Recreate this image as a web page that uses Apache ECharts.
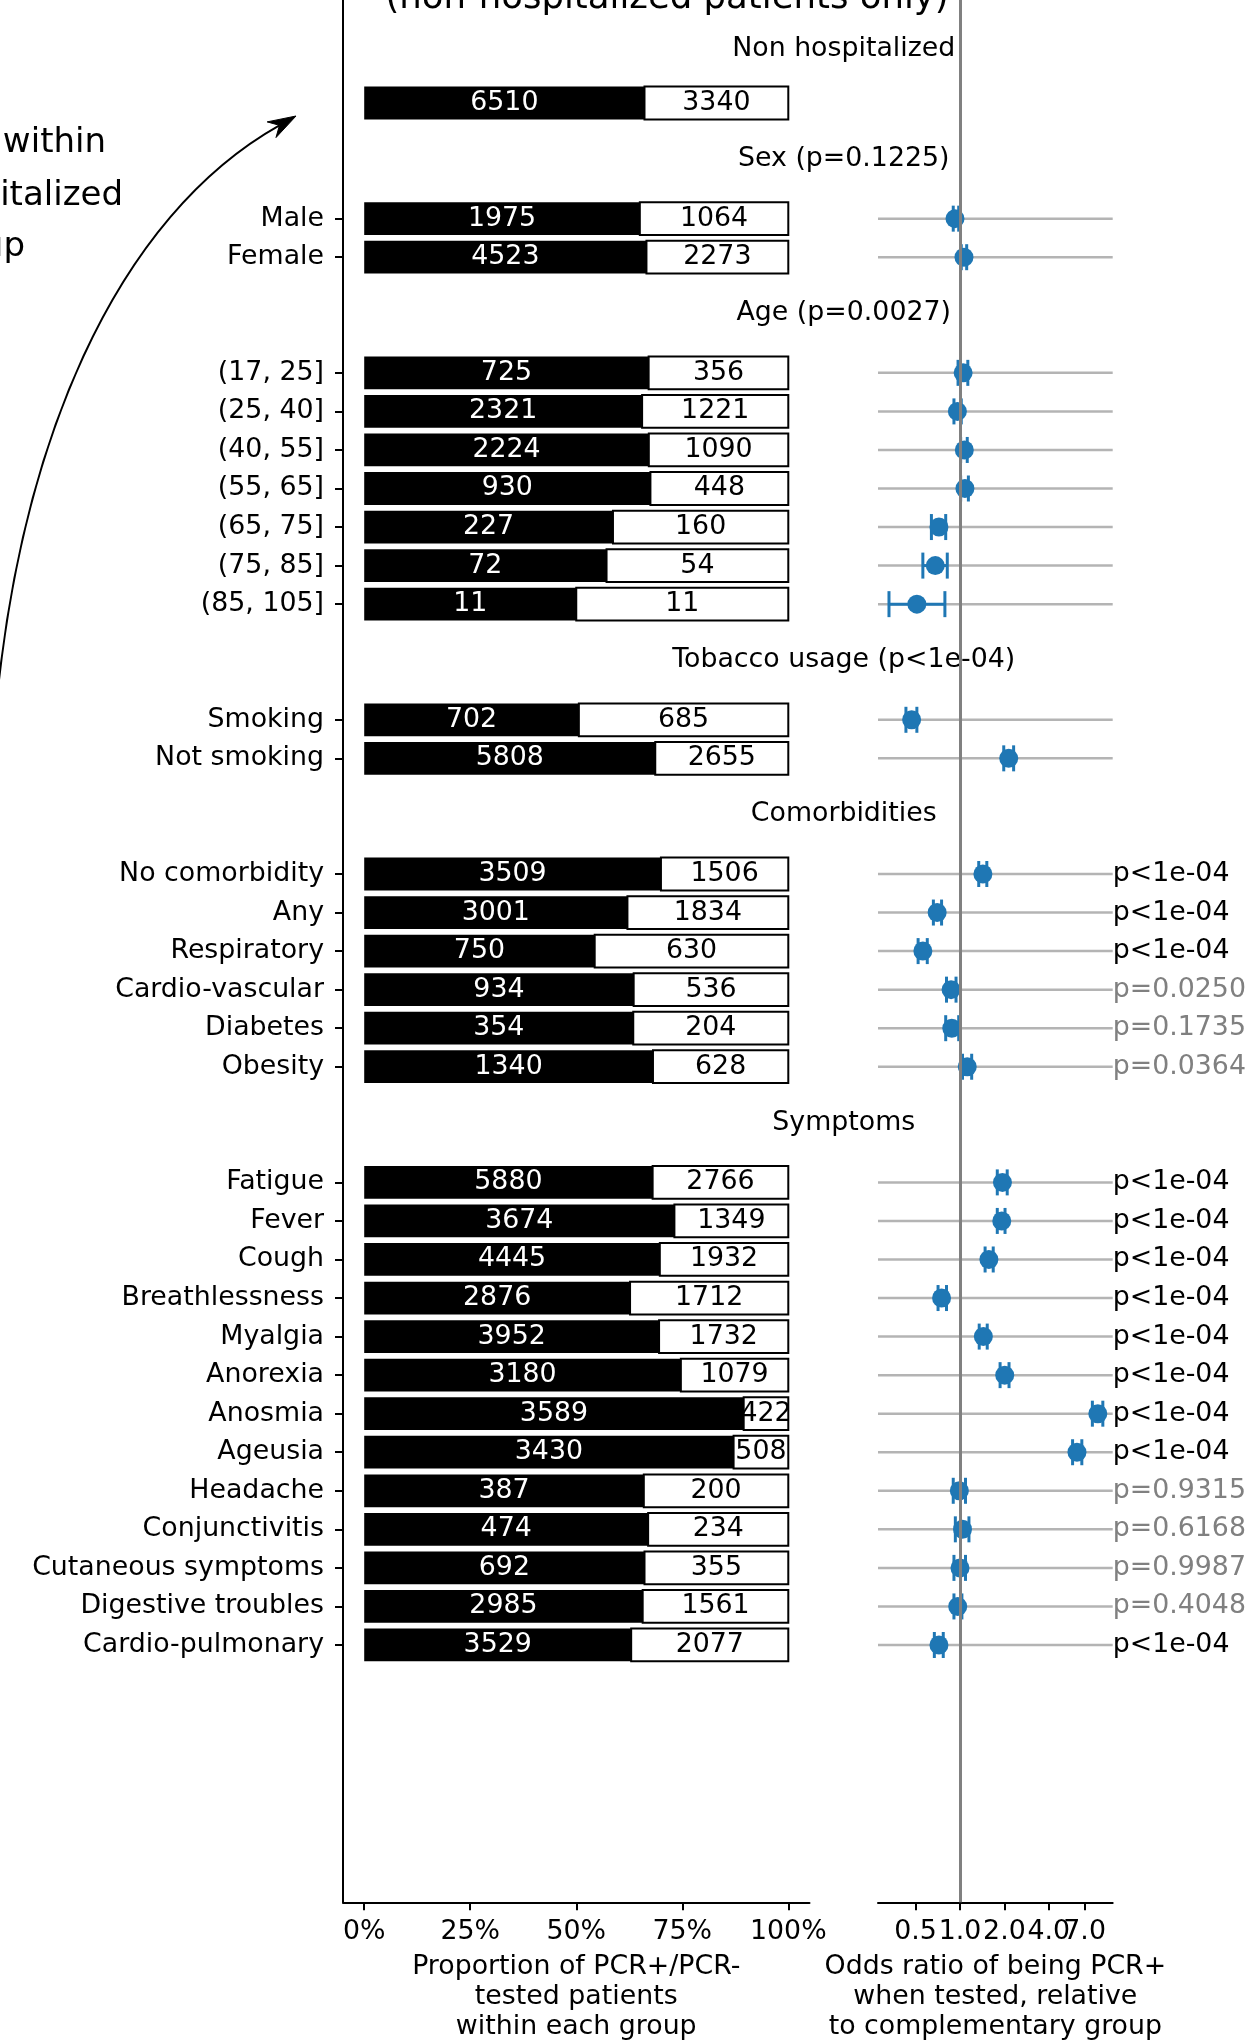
<!DOCTYPE html>
<html>
<head>
<meta charset="utf-8">
<script src="https://cdn.jsdelivr.net/npm/echarts@6/dist/echarts.min.js"></script>
<style>
  html, body { margin: 0; padding: 0; background: #ffffff; }
  #chart { width: 1253px; height: 2043px; }
</style>
</head>
<body>
<div id="chart"></div>
<script>
// ---- data -------------------------------------------------------------
const groupTitles = ['Non hospitalized', 'Sex (p=0.1225)', 'Age (p=0.0027)',
  'Tobacco usage (p<1e-04)', 'Comorbidities', 'Symptoms'];
const groupSizes = [1, 2, 7, 2, 6, 13];

const rowLabels = ['',
  'Male', 'Female',
  '(17, 25]', '(25, 40]', '(40, 55]', '(55, 65]', '(65, 75]', '(75, 85]', '(85, 105]',
  'Smoking', 'Not smoking',
  'No comorbidity', 'Any', 'Respiratory', 'Cardio-vascular', 'Diabetes', 'Obesity',
  'Fatigue', 'Fever', 'Cough', 'Breathlessness', 'Myalgia', 'Anorexia', 'Anosmia',
  'Ageusia', 'Headache', 'Conjunctivitis', 'Cutaneous symptoms', 'Digestive troubles',
  'Cardio-pulmonary'];

const pcrPositive = [6510, 1975, 4523, 725, 2321, 2224, 930, 227, 72, 11, 702, 5808,
  3509, 3001, 750, 934, 354, 1340, 5880, 3674, 4445, 2876, 3952, 3180, 3589, 3430,
  387, 474, 692, 2985, 3529];
const pcrNegative = [3340, 1064, 2273, 356, 1221, 1090, 448, 160, 54, 11, 685, 2655,
  1506, 1834, 630, 536, 204, 628, 2766, 1349, 1932, 1712, 1732, 1079, 422, 508,
  200, 234, 355, 1561, 2077];

const oddsRatio = [null, 0.925, 1.064, 1.05, 0.96, 1.07, 1.08, 0.72, 0.68, 0.51, 0.47, 2.14,
  1.43, 0.70, 0.56, 0.87, 0.88, 1.12, 1.94, 1.92, 1.57, 0.75, 1.44, 2.01, 8.6, 6.21,
  0.99, 1.04, 1.00, 0.965, 0.72];
const ciLower = [null, 0.90, 1.02, 0.97, 0.91, 1.01, 1.01, 0.64, 0.56, 0.33, 0.43, 1.98,
  1.34, 0.66, 0.52, 0.81, 0.80, 1.04, 1.79, 1.79, 1.48, 0.71, 1.35, 1.87, 7.9, 5.8,
  0.90, 0.93, 0.91, 0.91, 0.67];
const ciUpper = [null, 0.98, 1.11, 1.13, 1.02, 1.12, 1.14, 0.80, 0.82, 0.79, 0.51, 2.31,
  1.52, 0.75, 0.60, 0.94, 0.98, 1.20, 2.09, 2.02, 1.68, 0.81, 1.53, 2.15, 9.3, 6.7,
  1.09, 1.15, 1.09, 1.03, 0.77];

const pValueText = [null, null, null, null, null, null, null, null, null, null, null, null,
  'p<1e-04', 'p<1e-04', 'p<1e-04', 'p=0.0250', 'p=0.1735', 'p=0.0364',
  'p<1e-04', 'p<1e-04', 'p<1e-04', 'p<1e-04', 'p<1e-04', 'p<1e-04', 'p<1e-04', 'p<1e-04',
  'p=0.9315', 'p=0.6168', 'p=0.9987', 'p=0.4048', 'p<1e-04'];

const pctTicks = [0, 25, 50, 75, 100];
const oddsTicks = [0.5, 1, 2, 4, 7];

// ---- layout -----------------------------------------------------------
const FONT = '"DejaVu Sans", Verdana, sans-serif';
const FS = 26.8;
const BLUE = '#1f77b4';
const GRID_L = { left: 343, top: 0, width: 466.5, height: 1902.3 };
const GRID_R = { left: 878, top: 0, width: 234.7, height: 1902.3 };
const ROW_MIN = -1.672, ROW_MAX = 47.675;     // visible row range (top to bottom)
const PCT_MIN = -5, PCT_MAX = 105;
const OR_MIN = 0.278, OR_MAX = 10.85;
const BAR_HEIGHT = 0.85;                      // in rows
const HEADER_X = (GRID_L.left + GRID_L.width + GRID_R.left) / 2;
const HEADER_LIFT = [1.4, 1.55, 1.55, 1.55, 1.55, 1.55];  // rows above a group's first bar

// Row positions: groups follow each other with a 3-row step.
const itemRows = [];
const headerRows = [];
(function () {
  let r = 1;
  groupSizes.forEach((n, g) => {
    headerRows.push(r - HEADER_LIFT[g]);
    for (let i = 0; i < n; i++) itemRows.push(r + i);
    r += n - 1 + 3;
  });
})();

const labelByRow = {};
itemRows.forEach((r, i) => { labelByRow[r] = rowLabels[i]; });
const labelledRows = itemRows.filter((r, i) => rowLabels[i] !== '');

// stacked proportions
const posBars = [], negBars = [];
itemRows.forEach((r, i) => {
  const total = pcrPositive[i] + pcrNegative[i];
  const share = pcrPositive[i] / total * 100;
  posBars.push([r, 0, share, pcrPositive[i]]);
  negBars.push([r, share, 100, pcrNegative[i]]);
});

// forest plot rows
const forestIdx = [];
itemRows.forEach((r, i) => { if (oddsRatio[i] != null) forestIdx.push(i); });
const forestPoints = forestIdx.map(i => [oddsRatio[i], itemRows[i]]);
const forestCI = forestIdx.map(i => [itemRows[i], ciLower[i], ciUpper[i]]);
const forestRefRows = forestIdx.map(i => [1, itemRows[i]]);

// odds-ratio tick labels sit very close together: alternate them over two
// stacked axes so that no label gets dropped for overlapping its neighbour
const oddsLabelsA = oddsTicks.filter((v, i) => i % 2 === 0);
const oddsLabelsB = oddsTicks.filter((v, i) => i % 2 === 1);

// ---- renderers --------------------------------------------------------
function textStyle(text, color, size, align) {
  return {
    text: text, fill: color, font: size + 'px ' + FONT,
    align: align, verticalAlign: 'middle',
    textAlign: align, textVerticalAlign: 'middle'
  };
}

function renderBar(fill, stroke, textColor) {
  return function (params, api) {
    const row = api.value(0);
    const a = api.coord([api.value(1), row]);
    const b = api.coord([api.value(2), row]);
    const h = api.size([0, BAR_HEIGHT])[1];
    return {
      type: 'group',
      children: [
        {
          type: 'rect',
          shape: { x: a[0], y: a[1] - h / 2, width: b[0] - a[0], height: h },
          style: { fill: fill, stroke: stroke, lineWidth: stroke ? 2 : 0 }
        },
        {
          type: 'text',
          x: (a[0] + b[0]) / 2, y: a[1],
          style: textStyle(String(api.value(3)), textColor, FS, 'center')
        }
      ]
    };
  };
}

function renderHeader(params, api) {
  const y = api.coord([0, api.value(1)])[1];
  return {
    type: 'text',
    x: HEADER_X, y: y,
    style: textStyle(groupTitles[params.dataIndex], '#000000', FS, 'center')
  };
}

function renderRefLine(params, api) {
  const row = api.value(1);
  const l = api.coord([OR_MIN, row]);
  const r = api.coord([OR_MAX, row]);
  const txt = pValueText[forestIdx[params.dataIndex]];
  const children = [{
    type: 'line',
    shape: { x1: l[0], y1: l[1], x2: r[0], y2: r[1] },
    style: { stroke: '#b4b4b4', lineWidth: 2.5 }
  }];
  if (txt) {
    children.push({
      type: 'text',
      x: r[0], y: r[1],
      style: textStyle(txt, txt.indexOf('<') >= 0 ? '#000000' : '#808080', FS, 'left')
    });
  }
  return { type: 'group', children: children };
}

function renderErrorBar(params, api) {
  const row = api.value(0);
  const lo = api.coord([api.value(1), row]);
  const hi = api.coord([api.value(2), row]);
  const cap = 13;
  const style = { stroke: BLUE, lineWidth: 3 };
  return {
    type: 'group',
    children: [
      { type: 'line', shape: { x1: lo[0], y1: lo[1], x2: hi[0], y2: hi[1] }, style: style },
      { type: 'line', shape: { x1: lo[0], y1: lo[1] - cap, x2: lo[0], y2: lo[1] + cap }, style: style },
      { type: 'line', shape: { x1: hi[0], y1: hi[1] - cap, x2: hi[0], y2: hi[1] + cap }, style: style }
    ]
  };
}

// ---- side annotation (curved arrow) ------------------------------------
const arrowStart = [-8, 760], arrowC1 = [12, 440], arrowC2 = [120, 215], arrowTip = [296, 116];
const arrowDir = (function () {
  const dx = arrowTip[0] - arrowC2[0], dy = arrowTip[1] - arrowC2[1];
  const len = Math.hypot(dx, dy);
  return [dx / len, dy / len];
})();
const arrowNorm = [-arrowDir[1], arrowDir[0]];
const headLen = 28, headHalf = 9, notch = 19;
const headPoints = [
  arrowTip,
  [arrowTip[0] - headLen * arrowDir[0] + headHalf * arrowNorm[0], arrowTip[1] - headLen * arrowDir[1] + headHalf * arrowNorm[1]],
  [arrowTip[0] - notch * arrowDir[0], arrowTip[1] - notch * arrowDir[1]],
  [arrowTip[0] - headLen * arrowDir[0] - headHalf * arrowNorm[0], arrowTip[1] - headLen * arrowDir[1] - headHalf * arrowNorm[1]]
];

function sideText(text, x, y, align, size) {
  return { type: 'text', x: x, y: y, silent: true, style: textStyle(text, '#000000', size, align) };
}

// ---- chart ------------------------------------------------------------
const chart = echarts.init(document.getElementById('chart'), null, { renderer: 'canvas' });

const axisText = { fontSize: FS, color: '#000', fontFamily: FONT };
const nameText = { fontSize: FS, lineHeight: 30, color: '#000', fontFamily: FONT };
const blackLine = { color: '#000', width: 2 };

function oddsAxis(labels, drawLine) {
  const axis = {
    gridIndex: 1, type: 'log', logBase: 2, min: OR_MIN, max: OR_MAX, position: 'bottom', offset: 0,
    axisLine: { show: drawLine, onZero: false, lineStyle: blackLine },
    axisTick: { show: drawLine, length: 8, customValues: oddsTicks, lineStyle: blackLine },
    axisLabel: Object.assign({
      customValues: labels, margin: 16, hideOverlap: false,
      formatter: v => Number(v).toFixed(1)
    }, axisText),
    splitLine: { show: false }
  };
  if (drawLine) {
    axis.name = 'Odds ratio of being PCR+\nwhen tested, relative\nto complementary group';
    axis.nameLocation = 'middle';
    axis.nameGap = 50;
    axis.nameTextStyle = nameText;
  }
  return axis;
}

chart.setOption({
  animation: false,
  backgroundColor: '#ffffff',
  textStyle: { fontFamily: FONT },
  grid: [
    Object.assign({ containLabel: false, outerBoundsMode: 'none' }, GRID_L),
    Object.assign({ containLabel: false, outerBoundsMode: 'none' }, GRID_R)
  ],
  xAxis: [
    {
      gridIndex: 0, type: 'value', min: PCT_MIN, max: PCT_MAX, position: 'bottom',
      axisLine: { show: true, onZero: false, lineStyle: blackLine },
      axisTick: { show: true, length: 8, customValues: pctTicks, lineStyle: blackLine },
      axisLabel: Object.assign({
        customValues: pctTicks, margin: 16, hideOverlap: false,
        showMinLabel: true, showMaxLabel: true, formatter: v => v + '%'
      }, axisText),
      splitLine: { show: false },
      name: 'Proportion of PCR+/PCR-\ntested patients\nwithin each group',
      nameLocation: 'middle', nameGap: 50, nameTextStyle: nameText
    },
    oddsAxis(oddsLabelsA, true),
    oddsAxis(oddsLabelsB, false)
  ],
  yAxis: [
    {
      gridIndex: 0, type: 'value', inverse: true, min: ROW_MIN, max: ROW_MAX,
      axisLine: { show: true, onZero: false, lineStyle: blackLine },
      axisTick: { show: true, length: 8, customValues: labelledRows, lineStyle: blackLine },
      axisLabel: Object.assign({
        customValues: labelledRows, margin: 19, hideOverlap: false,
        formatter: v => labelByRow[Math.round(v)] || ''
      }, axisText),
      splitLine: { show: false }
    },
    {
      gridIndex: 1, type: 'value', inverse: true, min: ROW_MIN, max: ROW_MAX, show: false,
      axisLine: { onZero: false }, splitLine: { show: false }
    }
  ],
  series: [
    {
      name: 'PCR+', type: 'custom', xAxisIndex: 0, yAxisIndex: 0, z: 2,
      renderItem: renderBar('#000000', null, '#ffffff'),
      encode: { x: [1, 2], y: 0 }, data: posBars, silent: true
    },
    {
      name: 'PCR-', type: 'custom', xAxisIndex: 0, yAxisIndex: 0, z: 3,
      renderItem: renderBar('#ffffff', '#000000', '#000000'),
      encode: { x: [1, 2], y: 0 }, data: negBars, silent: true
    },
    {
      name: 'Groups', type: 'custom', xAxisIndex: 0, yAxisIndex: 0, z: 3,
      renderItem: renderHeader,
      encode: { x: 0, y: 1 }, data: headerRows.map(r => [0, r]), silent: true
    },
    {
      name: 'Reference', type: 'custom', xAxisIndex: 1, yAxisIndex: 1, z: 1,
      renderItem: renderRefLine,
      encode: { x: 0, y: 1 }, data: forestRefRows, silent: true
    },
    {
      name: 'No effect', type: 'scatter', xAxisIndex: 1, yAxisIndex: 1, z: 2,
      data: [], silent: true,
      markLine: {
        silent: true, symbol: ['none', 'none'], label: { show: false },
        lineStyle: { color: '#808080', width: 3, type: 'solid' },
        emphasis: { disabled: true },
        data: [{ xAxis: 1 }]
      }
    },
    {
      name: 'CI', type: 'custom', xAxisIndex: 1, yAxisIndex: 1, z: 3,
      renderItem: renderErrorBar,
      encode: { x: [1, 2], y: 0 }, data: forestCI, silent: true
    },
    {
      name: 'Odds ratio', type: 'scatter', xAxisIndex: 1, yAxisIndex: 1, z: 4,
      symbol: 'circle', symbolSize: 19, silent: true,
      itemStyle: { color: BLUE, opacity: 1 },
      data: forestPoints
    }
  ],
  graphic: [
    sideText('(non-hospitalized patients only)', 667, -1, 'center', 35.5),
    sideText('within', 106, 143, 'right', 34),
    sideText('hospitalized', 123, 196, 'right', 34),
    sideText('group', 25, 247, 'right', 34),
    {
      type: 'bezierCurve', silent: true,
      shape: {
        x1: arrowStart[0], y1: arrowStart[1],
        cpx1: arrowC1[0], cpy1: arrowC1[1],
        cpx2: arrowC2[0], cpy2: arrowC2[1],
        x2: arrowTip[0] - notch * arrowDir[0], y2: arrowTip[1] - notch * arrowDir[1]
      },
      style: { stroke: '#000', lineWidth: 2, fill: null }
    },
    {
      type: 'polygon', silent: true,
      shape: { points: headPoints },
      style: { fill: '#000', stroke: '#000', lineWidth: 1 }
    }
  ]
});
</script>
</body>
</html>
